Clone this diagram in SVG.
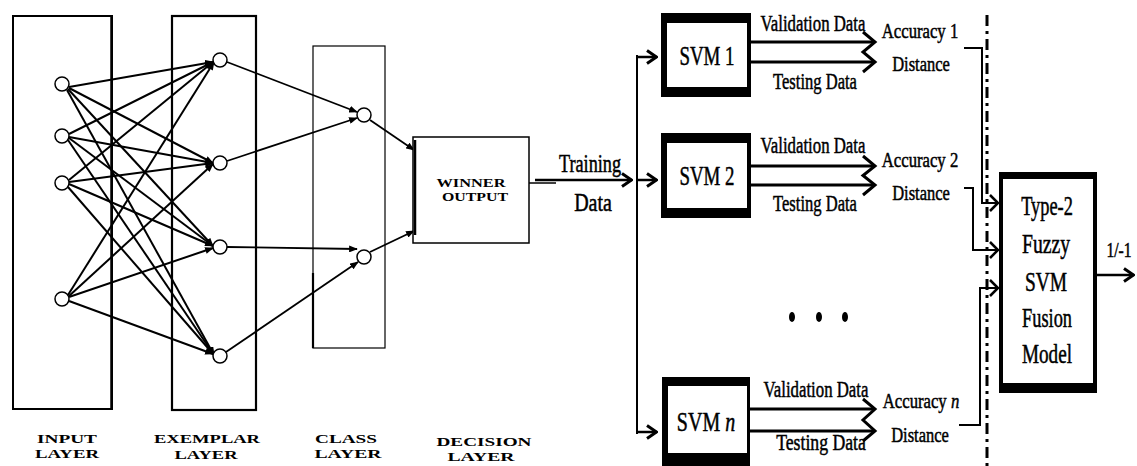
<svg xmlns="http://www.w3.org/2000/svg" width="1137" height="466" viewBox="0 0 1137 466">
<style>
.ln{stroke:#000;fill:none}
.nd{fill:#fff;stroke:#000;stroke-width:1.5}
.t{font-family:'Liberation Serif',serif;fill:#000;stroke:#000;stroke-width:0.5}
.lab{font-family:'Liberation Serif',serif;font-weight:bold;font-size:12.5px;fill:#000}
</style>
<defs>
<marker id="tri" viewBox="0 0 10 8" refX="9" refY="4" markerWidth="9" markerHeight="7" markerUnits="userSpaceOnUse" orient="auto"><path d="M0,0 L10,4 L0,8 Z" fill="#000"/></marker>
<marker id="chev" viewBox="0 0 12 16" refX="11" refY="8" markerWidth="12" markerHeight="16" markerUnits="userSpaceOnUse" orient="auto"><path d="M1,1.5 L10.5,8 L1,14.5" fill="none" stroke="#000" stroke-width="3"/></marker>
</defs>
<rect width="1137" height="466" fill="#fff"/>

<g id="input-layer"><rect x="13" y="16" width="99" height="393" class="ln" stroke-width="2"/><line x1="111" y1="16" x2="111" y2="409" class="ln" stroke-width="1.5"/></g>
<g id="exemplar-layer"><rect x="172" y="16" width="84" height="394" class="ln" stroke-width="2.2"/></g>
<g id="class-layer"><rect x="313" y="46" width="72" height="302" class="ln" stroke-width="1.2"/><line x1="313" y1="273" x2="313" y2="348" class="ln" stroke-width="2.2"/></g>

<g id="connectors">
 <g class="ln" stroke-width="2" marker-end="url(#tri)">
  <line x1="69" y1="87" x2="213" y2="62"/>
  <line x1="69" y1="88" x2="213" y2="163"/>
  <line x1="68" y1="89" x2="213" y2="246"/>
  <line x1="67" y1="90" x2="214" y2="355"/>
  <line x1="69" y1="134" x2="213" y2="62"/>
  <line x1="69" y1="137" x2="213" y2="163"/>
  <line x1="69" y1="138" x2="213" y2="246"/>
  <line x1="68" y1="140" x2="214" y2="355"/>
  <line x1="69" y1="180" x2="213" y2="62"/>
  <line x1="69" y1="182" x2="213" y2="163"/>
  <line x1="69" y1="184" x2="213" y2="246"/>
  <line x1="68" y1="187" x2="214" y2="355"/>
  <line x1="68" y1="295" x2="214" y2="62"/>
  <line x1="69" y1="296" x2="213" y2="164"/>
  <line x1="69" y1="297" x2="213" y2="248"/>
  <line x1="69" y1="301" x2="213" y2="354"/>
 </g>
 <g class="ln" stroke-width="1.8" marker-end="url(#tri)">
  <line x1="227" y1="62" x2="357" y2="112"/>
  <line x1="227" y1="161" x2="357" y2="118"/>
  <line x1="227" y1="247" x2="357" y2="249"/>
  <line x1="226" y1="352" x2="358" y2="262"/>
 </g>
 <g class="ln" stroke-width="1.8" marker-end="url(#tri)">
  <line x1="370" y1="120" x2="414" y2="150"/>
  <line x1="370" y1="252" x2="414" y2="231"/>
 </g>
 <line x1="529" y1="183" x2="556" y2="183" class="ln" stroke-width="1.5"/>
 <line x1="535" y1="180" x2="632" y2="180" class="ln" stroke-width="2.5" marker-end="url(#chev)"/>
 <line x1="637" y1="55" x2="637" y2="434" class="ln" stroke-width="2"/>
 <g class="ln" stroke-width="2.5" marker-end="url(#chev)">
  <line x1="637" y1="57" x2="657" y2="57"/>
  <line x1="637" y1="180" x2="657" y2="180"/>
  <line x1="637" y1="432" x2="657" y2="432"/>
 </g>
 <g class="ln" stroke-width="3">
  <line x1="751" y1="42" x2="873" y2="42"/><line x1="751" y1="62" x2="873" y2="62"/>
  <path d="M863,32 L875,42 L863,52 L875,62 L863,72"/>
  <line x1="751" y1="166" x2="873" y2="166"/><line x1="751" y1="185" x2="873" y2="185"/>
  <path d="M863,156 L875,166 L863,175.5 L875,185 L863,195"/>
  <line x1="750" y1="409" x2="873" y2="409"/><line x1="750" y1="431" x2="873" y2="431"/>
  <path d="M863,399 L875,409 L863,420 L875,431 L863,441"/>
 </g>
 <g class="ln" stroke-width="2">
  <polyline points="964,48 982,48 982,203 997,203"/>
  <polyline points="964,188 973,188 973,250 997,250"/>
  <polyline points="959,425 980,425 980,288 997,288"/>
 </g>
 <g class="ln" stroke-width="2.5">
  <path d="M990,195 L998,203 L990,211"/>
  <path d="M990,242 L998,250 L990,258"/>
  <path d="M990,280 L998,288 L990,296"/>
 </g>
 <line x1="987" y1="15" x2="987" y2="466" class="ln" stroke-width="3" stroke-dasharray="11 5 3 5"/>
 <line x1="1097" y1="275" x2="1134" y2="275" class="ln" stroke-width="2.5" marker-end="url(#chev)"/>
</g>

<g id="in1"><circle cx="62" cy="84" r="7" class="nd"/></g>
<g id="in2"><circle cx="62" cy="136" r="7" class="nd"/></g>
<g id="in3"><circle cx="62" cy="183" r="7" class="nd"/></g>
<g id="in4"><circle cx="62" cy="299" r="7" class="nd"/></g>
<g id="ex1"><circle cx="220" cy="60" r="7" class="nd"/></g>
<g id="ex2"><circle cx="220" cy="163" r="7" class="nd"/></g>
<g id="ex3"><circle cx="220" cy="247" r="7" class="nd"/></g>
<g id="ex4"><circle cx="220" cy="356" r="7" class="nd"/></g>
<g id="cl1"><circle cx="364" cy="115" r="7" class="nd"/></g>
<g id="cl2"><circle cx="364" cy="257" r="7" class="nd"/></g>

<g id="winner">
 <rect x="413" y="137" width="116" height="106" fill="#fff" stroke="#000" stroke-width="1.5"/>
 <line x1="415" y1="140" x2="415" y2="235" stroke="#000" stroke-width="2.5"/>
 <text x="471" y="187" class="lab" text-anchor="middle" textLength="69" lengthAdjust="spacingAndGlyphs" style="font-size:11.5px">WINNER</text>
 <text x="475" y="201" class="lab" text-anchor="middle" textLength="66" lengthAdjust="spacingAndGlyphs" style="font-size:11.5px">OUTPUT</text>
</g>

<g id="training-label" class="t" font-family="Liberation Serif, serif" font-size="25" text-anchor="middle">
 <text transform="translate(590,172) scale(0.73,1)">Training</text>
 <text transform="translate(593,211) scale(0.8,1)">Data</text>
</g>

<g id="svm1">
 <rect x="661" y="13" width="90" height="84" fill="#000"/>
 <rect x="667" y="23" width="80" height="64" fill="#fff"/>
 <text class="t" font-family="Liberation Serif, serif" font-size="27" text-anchor="middle" transform="translate(707,65) scale(0.7,1)">SVM 1</text>
</g>
<g id="svm2">
 <rect x="661" y="133" width="90" height="85" fill="#000"/>
 <rect x="667" y="143" width="80" height="65" fill="#fff"/>
 <text class="t" font-family="Liberation Serif, serif" font-size="27" text-anchor="middle" transform="translate(707,185) scale(0.7,1)">SVM 2</text>
</g>
<g id="svmn">
 <rect x="662" y="377" width="88" height="89" fill="#000"/>
 <rect x="668" y="386" width="79" height="67" fill="#fff"/>
 <text class="t" font-family="Liberation Serif, serif" font-size="27" text-anchor="middle" transform="translate(706,431) scale(0.74,1)">SVM <tspan font-style="italic">n</tspan></text>
</g>

<g id="svm-labels" class="t" font-family="Liberation Serif, serif" font-size="23" text-anchor="middle">
 <text transform="translate(813,31) scale(0.73,1)">Validation Data</text>
 <text transform="translate(815,89) scale(0.72,1)">Testing Data</text>
 <text transform="translate(813,153) scale(0.73,1)">Validation Data</text>
 <text transform="translate(815,211) scale(0.72,1)">Testing Data</text>
 <text transform="translate(816,397) scale(0.73,1)">Validation Data</text>
 <text transform="translate(821,450) scale(0.77,1)">Testing Data</text>
</g>

<g id="acc1" class="t" font-family="Liberation Serif, serif" font-size="22" text-anchor="middle">
 <text transform="translate(920,38) scale(0.76,1)">Accuracy 1</text>
 <text transform="translate(921,71) scale(0.75,1)">Distance</text>
</g>
<g id="acc2" class="t" font-family="Liberation Serif, serif" font-size="22" text-anchor="middle">
 <text transform="translate(920,167) scale(0.76,1)">Accuracy 2</text>
 <text transform="translate(921,200) scale(0.75,1)">Distance</text>
</g>
<g id="accn" class="t" font-family="Liberation Serif, serif" font-size="22" text-anchor="middle">
 <text transform="translate(921,408) scale(0.76,1)">Accuracy <tspan font-style="italic">n</tspan></text>
 <text transform="translate(920,442) scale(0.75,1)">Distance</text>
</g>

<g id="ellipsis">
 <ellipse cx="792" cy="317" rx="3" ry="5" fill="#000"/>
 <ellipse cx="819" cy="317" rx="3" ry="5" fill="#000"/>
 <ellipse cx="845" cy="317" rx="3" ry="5" fill="#000"/>
</g>

<g id="fusion">
 <rect x="999" y="172" width="98" height="221" fill="#000"/>
 <rect x="1003" y="179" width="90" height="204" fill="#fff"/>
 <g class="t" font-family="Liberation Serif, serif" font-size="27" text-anchor="middle">
  <text transform="translate(1047,215) scale(0.68,1)">Type-2</text>
  <text transform="translate(1046,253) scale(0.73,1)">Fuzzy</text>
  <text transform="translate(1046,291) scale(0.72,1)">SVM</text>
  <text transform="translate(1047,327) scale(0.68,1)">Fusion</text>
  <text transform="translate(1047,363) scale(0.71,1)">Model</text>
 </g>
</g>
<g id="output-label"><text class="t" font-family="Liberation Serif, serif" font-size="20" text-anchor="middle" transform="translate(1119,257) scale(0.78,1)">1/-1</text></g>

<g id="layer-labels" text-anchor="middle">
 <text x="67" y="443" class="lab" textLength="60" lengthAdjust="spacingAndGlyphs">INPUT</text>
 <text x="67" y="458" class="lab" textLength="64" lengthAdjust="spacingAndGlyphs">LAYER</text>
 <text x="207" y="443" class="lab" textLength="106" lengthAdjust="spacingAndGlyphs">EXEMPLAR</text>
 <text x="206" y="459" class="lab" textLength="63" lengthAdjust="spacingAndGlyphs">LAYER</text>
 <text x="346" y="443" class="lab" textLength="62" lengthAdjust="spacingAndGlyphs">CLASS</text>
 <text x="348" y="458" class="lab" textLength="67" lengthAdjust="spacingAndGlyphs">LAYER</text>
 <text x="484" y="446" class="lab" textLength="95" lengthAdjust="spacingAndGlyphs">DECISION</text>
 <text x="481" y="461" class="lab" textLength="67" lengthAdjust="spacingAndGlyphs">LAYER</text>
</g>
</svg>
